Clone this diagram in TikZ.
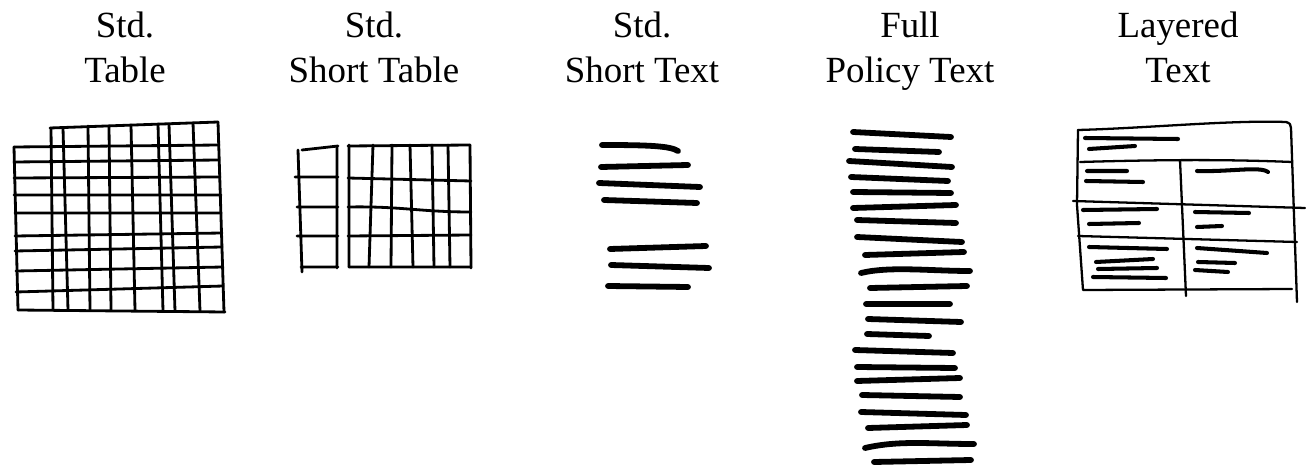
\documentclass[tikz,border=0pt]{standalone}
\usepackage{fontspec}
\setmainfont{Liberation Serif}
\usepackage{tikz}

\begin{document}
\begin{tikzpicture}[x=0.02cm,y=-0.02cm,
		heading/.style={anchor=north,align=center,inner sep=0pt,font=\fontsize{21}{25.6}\selectfont},
		gridline/.style={line width=1.6pt,line cap=round,line join=round},
		boxline/.style={line width=1.3pt,line cap=round,line join=round},
		scribble/.style={line width=3.3pt,line cap=round},
		fineink/.style={line width=2.3pt,line cap=round}]
		\useasboundingbox (0,0) rectangle (1306,466);
		\node[heading] (stdtable) at (125,12) {Std.\\Table};
		\node[heading] (shorttable) at (374,12) {Std.\\Short Table};
		\node[heading] (shorttext) at (642,12) {Std.\\Short Text};
		\node[heading] (policytext) at (910,12) {Full\\Policy Text};
		\node[heading] (layeredtext) at (1178,12) {Layered\\Text};
		\draw[gridline] (50,128) -- (218,122);
		\draw[gridline] (14,147) -- (219,145) (14,162) -- (219,160) (14,178) -- (220,177) (14,195) -- (221,195) (15,213) -- (221,213) (15,236) -- (222,233) (15,251) -- (222,247) (16,271) -- (223,267) (16,292) -- (223,286) (18,310) -- (225,312);
		\draw[gridline] (14,147) -- (18,310) (51,128) -- (53,310) (63,128) -- (68,310) (88,126) -- (90,310) (109,126) -- (111,310) (131,125) -- (135,310) (158,124) -- (163,311) (169,124) -- (175,311) (193,123) -- (200,311) (218,122) -- (224,312);
		\draw[gridline] (298,150) -- (302,272) (337,147) -- (337,268) (302,150) -- (338,146) (295,177) -- (338,177) (297,207) -- (338,207) (297,236) -- (338,236) (301,267) -- (338,267);
		\draw[gridline] (349,145) -- (349,267) (373,145) -- (369,267) (392,145) -- (391,267) (410,145) -- (413,267) (432,145) -- (434,267) (448,145) -- (450,267) (470,145) -- (471,268);
		\draw[gridline] (348,146) -- (470,145) (348,178) -- (471,181) (348,207) .. controls (400,206) and (420,212) .. (471,212) (348,236) -- (471,235) (349,267) -- (471,267);
		\draw[scribble] (602,145) .. controls (650,145) and (670,146) .. (678,151) (601,167) -- (688,165) (599,183) -- (700,187) (604,200) -- (697,203);
		\draw[scribble] (610,249) -- (706,246) (611,265) -- (709,268) (608,286) -- (688,287);
		\draw[scribble] (853,132) -- (951,137) (855,149) -- (939,152) (849,161) -- (952,167) (851,177) -- (948,181) (853,192) -- (951,193) (853,208) -- (956,205);
		\draw[scribble] (857,220) -- (956,223) (857,237) -- (962,242) (865,255) -- (964,252) (861,273) .. controls (890,266) and (930,271) .. (970,271) (870,288) -- (967,286);
		\draw[scribble] (866,304) -- (950,304) (868,319) -- (961,322) (867,334) -- (929,336) (855,350) -- (953,353) (857,367) -- (955,368);
		\draw[scribble] (857,381) -- (960,378) (862,395) -- (960,397) (861,412) -- (966,415) (868,428) -- (967,425) (865,448) .. controls (900,440) and (930,444) .. (974,444) (874,462) -- (971,460);
		\draw[boxline] (1078,130) .. controls (1150,128) and (1230,120) .. (1286,122) .. controls (1290,123) and (1291,125) .. (1291,128) -- (1297,302);
		\draw[boxline] (1078,130) -- (1077,205) -- (1083,290) -- (1292,289);
		\draw[boxline] (1080,162) .. controls (1150,160) and (1220,159) .. (1292,162) (1073,201) -- (1305,208) (1078,236) -- (1297,242) (1180,160) -- (1186,296);
		\draw[fineink] (1085,138) -- (1178,139) (1089,149) -- (1135,146) (1087,171) -- (1127,171) (1086,181) -- (1143,182);
		\draw[fineink] (1197,171) .. controls (1230,172) and (1260,166) .. (1268,172) (1083,210) -- (1157,209) (1089,224) -- (1139,223) (1195,212) -- (1249,213) (1197,227) -- (1222,226);
		\draw[fineink] (1089,247) -- (1167,249) (1096,262) -- (1153,259) (1098,269) -- (1157,268) (1093,277) -- (1166,278) (1197,248) -- (1267,253) (1198,262) -- (1235,263) (1195,270) -- (1228,272);
	\end{tikzpicture}
\end{document}
